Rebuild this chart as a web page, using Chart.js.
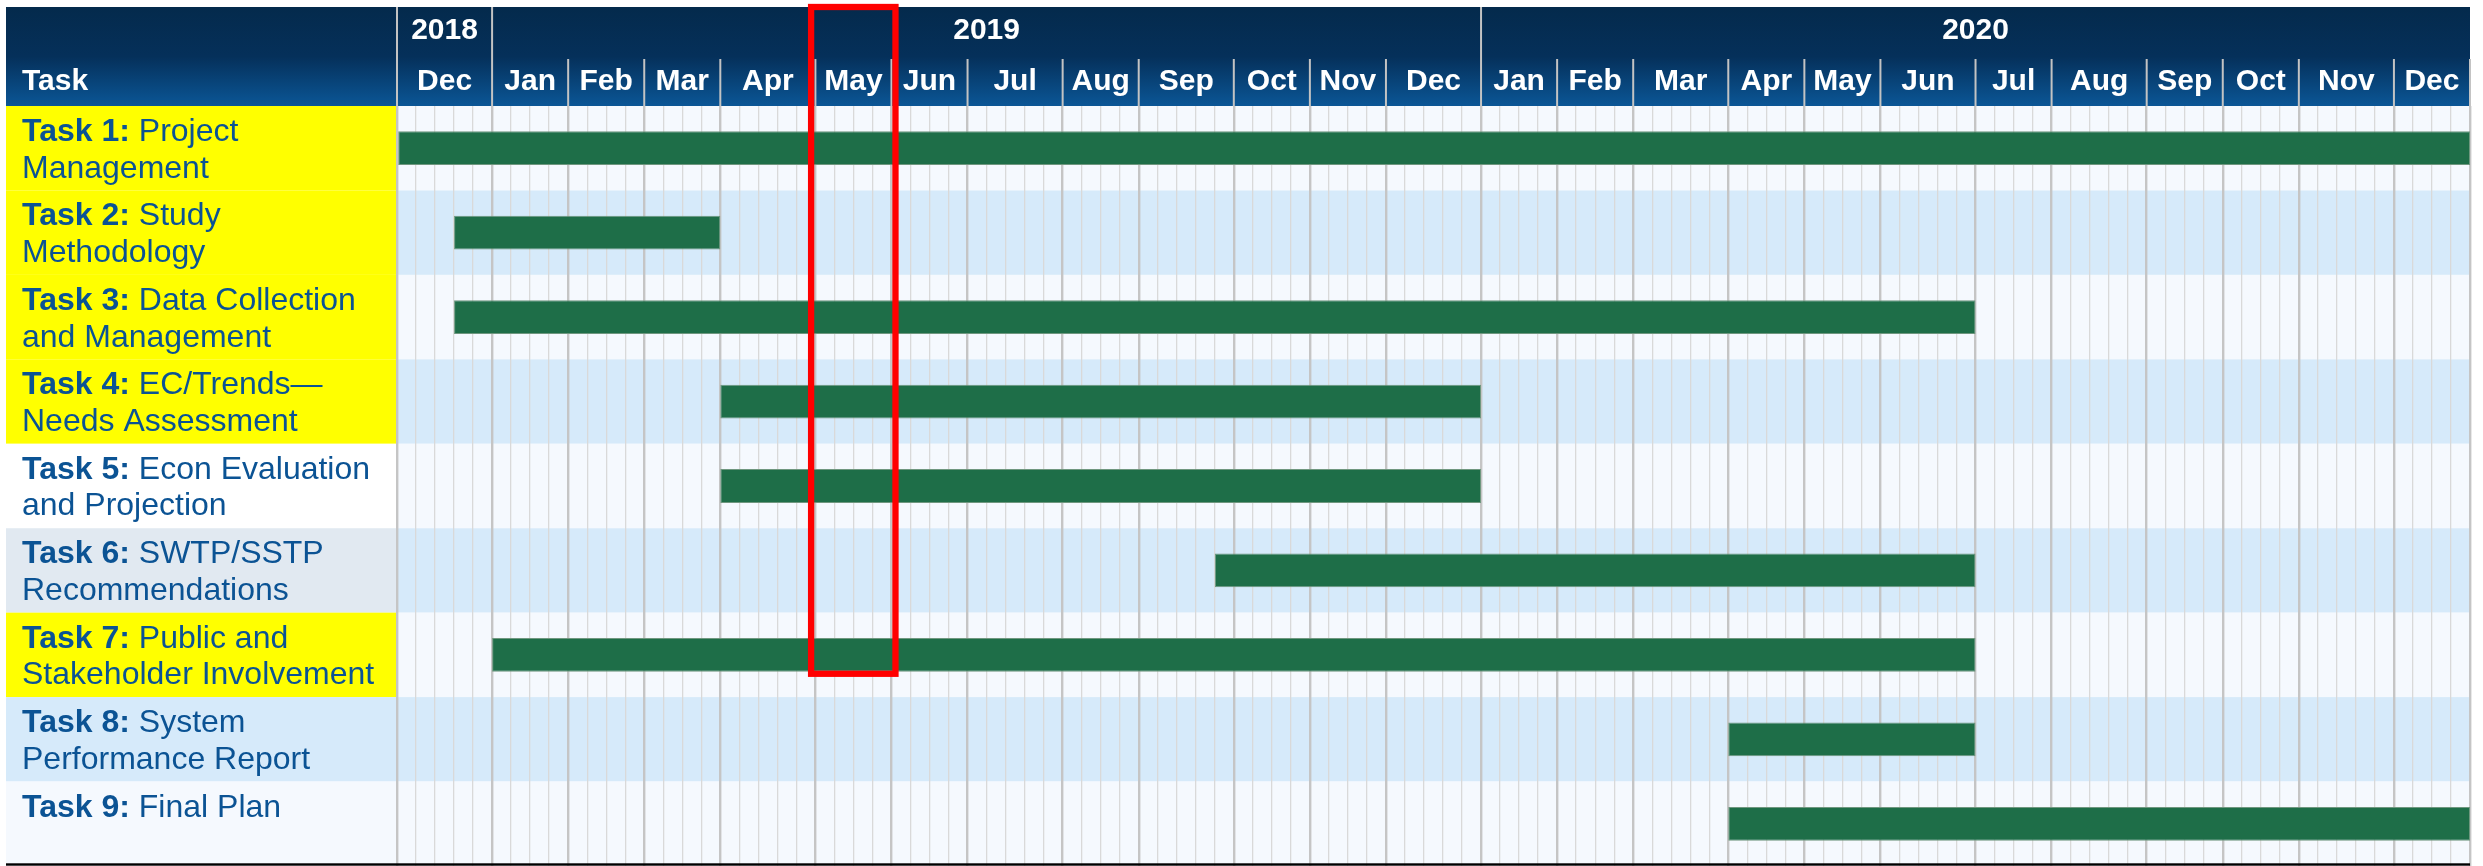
<!DOCTYPE html>
<html lang="en">
<head>
<meta charset="UTF-8">
<title>Project Schedule</title>
<script src="https://cdn.jsdelivr.net/npm/chart.js@4.4.1/dist/chart.umd.min.js"></script>
<style>
    html, body { margin: 0; padding: 0; background: #ffffff; }
    #contenedor { width: 2483px; height: 866px; position: relative; }
</style>
</head>
<body>
<div id="contenedor"><canvas id="ganttChart"></canvas></div>
<script>
// Datos del cronograma (en semanas, desde la primera semana de dic 2018)
const tareasPrefijo = ['Task 1:', 'Task 2:', 'Task 3:', 'Task 4:', 'Task 5:', 'Task 6:', 'Task 7:', 'Task 8:', 'Task 9:'];
const tareasTexto = [
    ['Project', 'Management'],
    ['Study', 'Methodology'],
    ['Data Collection', 'and Management'],
    ['EC/Trends\u2014', 'Needs Assessment'],
    ['Econ Evaluation', 'and Projection'],
    ['SWTP/SSTP', 'Recommendations'],
    ['Public and', 'Stakeholder Involvement'],
    ['System', 'Performance Report'],
    ['Final Plan']
];
const inicioSemana = [0, 3, 3, 17, 17, 43, 5, 70, 70];
const finSemana = [109, 17, 83, 57, 57, 83, 83, 83, 109];

const meses = ['Dec',
    'Jan', 'Feb', 'Mar', 'Apr', 'May', 'Jun', 'Jul', 'Aug', 'Sep', 'Oct', 'Nov', 'Dec',
    'Jan', 'Feb', 'Mar', 'Apr', 'May', 'Jun', 'Jul', 'Aug', 'Sep', 'Oct', 'Nov', 'Dec'];
const semanasPorMes = [5,
    4, 4, 4, 5, 4, 4, 5, 4, 5, 4, 4, 5,
    4, 4, 5, 4, 4, 5, 4, 5, 4, 4, 5, 4];
const anios = ['2018', '2019', '2020'];
const mesesPorAnio = [1, 12, 12];

// Recuadro rojo: mes (May 2019) y ultima tarea que cubre
const mesResaltado = 5;
const tareaResaltadaHasta = 6;

// Estilos
const fuente = "'Liberation Sans', Arial, sans-serif";
const colorTexto = '#0b5394';
const fondoEtiqueta = ['#ffff00', '#ffff00', '#ffff00', '#ffff00', '#ffffff', '#e1e9f1', '#ffff00', '#d6eafa', '#f5f9fe'];

// Limites y centros de meses / anios
const limitesMes = [0];
semanasPorMes.forEach(n => limitesMes.push(limitesMes[limitesMes.length - 1] + n));
const centrosMes = meses.map((m, i) => (limitesMes[i] + limitesMes[i + 1]) / 2);
const limitesAnio = [0];
let acumulado = 0;
mesesPorAnio.forEach(n => { acumulado += n; limitesAnio.push(limitesMes[acumulado]); });
const centrosAnio = anios.map((a, i) => (limitesAnio[i] + limitesAnio[i + 1]) / 2);
const totalSemanas = limitesMes[limitesMes.length - 1];
const lineasSemana = Array.from({ length: totalSemanas + 1 }, (_, i) => i);

const fondoPlugin = {
    id: 'fondoGantt',
    beforeDraw(chart) {
        const { ctx, chartArea, scales } = chart;
        const x = scales.x, y = scales.y;
        const alto = y.getPixelForValue(1) - y.getPixelForValue(0);
        const izq = 6;
        ctx.save();

        // Filas: bandas del area y celdas de etiqueta
        tareasPrefijo.forEach((pref, i) => {
            const arriba = y.getPixelForValue(i) - alto / 2;
            ctx.fillStyle = i % 2 === 0 ? '#f5f9fe' : '#d6eafa';
            ctx.fillRect(chartArea.left, arriba, chartArea.right - chartArea.left, alto);
            ctx.fillStyle = fondoEtiqueta[i];
            ctx.fillRect(izq, arriba, chartArea.left - izq, alto);

            ctx.fillStyle = colorTexto;
            ctx.textBaseline = 'alphabetic';
            ctx.textAlign = 'left';
            ctx.font = `bold 32px ${fuente}`;
            const base = arriba + 35;
            ctx.fillText(pref + ' ', 22, base);
            const ancho = ctx.measureText(pref + ' ').width;
            ctx.font = `32px ${fuente}`;
            ctx.fillText(tareasTexto[i][0], 22 + ancho, base);
            if (tareasTexto[i][1]) ctx.fillText(tareasTexto[i][1], 22, base + 36.7);
        });

        // Cabecera con degradado
        const top = scales.xYear.top + 3;
        const grad = ctx.createLinearGradient(0, top, 0, chartArea.top);
        grad.addColorStop(0, '#042a4c');
        grad.addColorStop(0.5, '#05305a');
        grad.addColorStop(1, '#0b5696');
        ctx.fillStyle = grad;
        ctx.fillRect(izq, top, chartArea.right - izq, chartArea.top - top);

        // Separadores de meses y anios
        ctx.strokeStyle = '#c3c3c3';
        ctx.lineWidth = 2;
        limitesMes.forEach(v => {
            const px = x.getPixelForValue(v);
            const esAnio = limitesAnio.includes(v) && v < totalSemanas;
            ctx.beginPath();
            ctx.moveTo(px, esAnio ? top : scales.xMonth.top + 1);
            ctx.lineTo(px, chartArea.top);
            ctx.stroke();
        });

        ctx.fillStyle = '#ffffff';
        ctx.font = `bold 30px ${fuente}`;
        ctx.textBaseline = 'middle';
        ctx.fillText('Task', 22, 82);
        ctx.restore();
    },
    afterDraw(chart) {
        const { ctx, chartArea, scales } = chart;
        const x = scales.x;
        ctx.save();
        // Linea inferior
        ctx.fillStyle = '#000000';
        ctx.fillRect(6, chartArea.bottom - 2.7, chartArea.right - 6, 2.4);

        // Recuadro rojo del mes resaltado
        const barra = chart.getDatasetMeta(0).data[tareaResaltadaHasta];
        const x0 = x.getPixelForValue(limitesMes[mesResaltado]) - 4.3;
        const x1 = x.getPixelForValue(limitesMes[mesResaltado + 1]) + 4;
        const y0 = scales.xYear.top + 3;
        const y1 = barra.y + barra.height / 2 + 2;
        ctx.strokeStyle = '#ff0000';
        ctx.lineWidth = 6.3;
        ctx.strokeRect(x0, y0, x1 - x0, y1 - y0);
        ctx.restore();
    }
};

const ctx = document.getElementById('ganttChart').getContext('2d');
const ganttChart = new Chart(ctx, {
    type: 'bar',
    data: {
        labels: tareasPrefijo,
        datasets: [{
            label: 'Schedule',
            data: inicioSemana.map((s, i) => [s, finSemana[i]]),
            backgroundColor: '#1e6e48',
            borderColor: '#6f977f',
            borderWidth: 1,
            borderSkipped: false,
            barPercentage: 0.4,
            categoryPercentage: 1.0,
            xAxisID: 'x',
            yAxisID: 'y'
        }]
    },
    options: {
        indexAxis: 'y',
        responsive: true,
        maintainAspectRatio: false,
        animation: false,
        events: [],
        layout: { padding: { top: 4, left: 397, right: 13, bottom: 0 } },
        plugins: { legend: { display: false }, tooltip: { enabled: false } },
        scales: {
            // el primer eje 'top' queda pegado al area, el segundo encima
            xMonth: {
                type: 'linear', position: 'top', min: 0, max: totalSemanas,
                grid: { display: false, drawTicks: false },
                border: { display: false },
                afterBuildTicks: s => { s.ticks = centrosMes.map(v => ({ value: v })); },
                ticks: {
                    autoSkip: false, maxRotation: 0, padding: 6, color: '#ffffff',
                    font: { family: fuente, size: 30, weight: 'bold' },
                    callback: (v, i) => meses[i]
                }
            },
            xYear: {
                type: 'linear', position: 'top', min: 0, max: totalSemanas,
                grid: { display: false, drawTicks: false },
                border: { display: false },
                afterBuildTicks: s => { s.ticks = centrosAnio.map(v => ({ value: v })); },
                ticks: {
                    autoSkip: false, maxRotation: 0, padding: 9, color: '#ffffff',
                    font: { family: fuente, size: 30, weight: 'bold' },
                    callback: (v, i) => anios[i]
                }
            },
            x: {
                type: 'linear', position: 'bottom', min: 0, max: totalSemanas,
                afterBuildTicks: s => { s.ticks = lineasSemana.map(v => ({ value: v })); },
                ticks: { display: false },
                border: { display: false },
                grid: {
                    drawTicks: false,
                    color: c => limitesMes.includes(c.tick.value) ? '#c5c5c5' : '#d9d9d9',
                    lineWidth: c => limitesMes.includes(c.tick.value) ? 2.4 : 1.3
                }
            },
            y: { type: 'category', display: false, grid: { display: false } }
        }
    },
    plugins: [fondoPlugin]
});
</script>
</body>
</html>
